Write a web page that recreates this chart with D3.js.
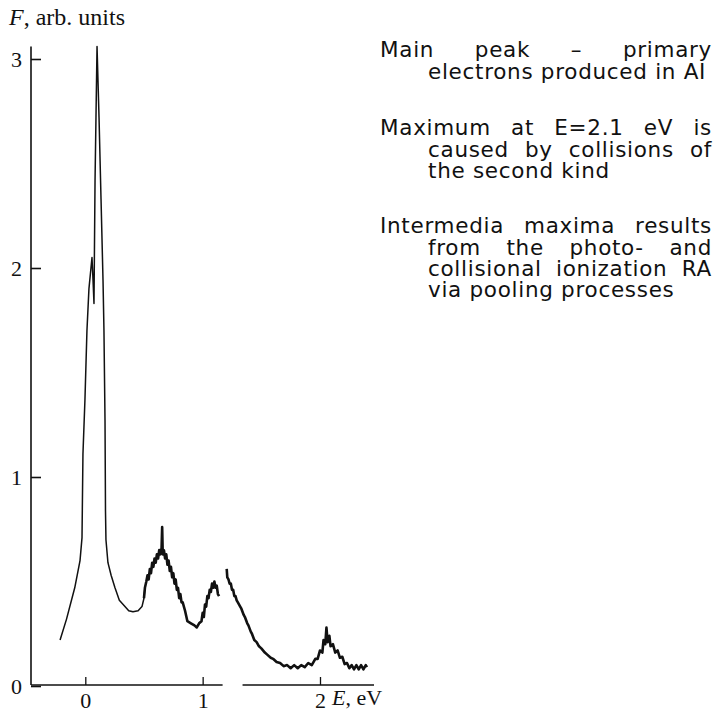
<!DOCTYPE html>
<html>
<head>
<meta charset="utf-8">
<script src="https://cdn.jsdelivr.net/npm/d3@7"></script>
<style>
  body { margin: 0; background: #fff; }
  .serif { font-family: "Liberation Serif", "Times New Roman", serif; font-size: 22px; fill: #111; }
  .titre { font-size: 24px; }
  .note { font-family: "DejaVu Sans", Verdana, sans-serif; font-size: 21.5px; letter-spacing: 0.7px; fill: #111; }
  .courbe { fill: none; stroke: #111; stroke-width: 1.5; stroke-linejoin: round; }
  .bruit { fill: none; stroke: #111; stroke-width: 2.6; stroke-linejoin: round; }
</style>
</head>
<body>
<script>
// Spectre des electrons : energie (eV) et F (unites arbitraires)
var energie = [-0.215, -0.16, -0.09, -0.045, -0.028, -0.02, -0.003, 0.014, 0.031, 0.057, 0.066, 0.074,
  0.078, 0.083, 0.091, 0.100, 0.108, 0.117, 0.134, 0.151, 0.159, 0.168, 0.172, 0.176, 0.193, 0.22,
  0.253, 0.29, 0.338, 0.37, 0.406, 0.45, 0.483, 0.50,
  0.508, 0.52, 0.53, 0.54, 0.55, 0.56, 0.57, 0.58, 0.59, 0.60, 0.61, 0.62, 0.63, 0.64, 0.65, 0.655,
  0.66, 0.67, 0.68, 0.69, 0.70, 0.71, 0.72, 0.73, 0.74, 0.75, 0.76, 0.77, 0.78, 0.79, 0.80, 0.81,
  0.82, 0.83, 0.85, 0.87, 0.90, 0.93, 0.95, 0.97, 0.99, 1.00, 1.01, 1.02, 1.03, 1.04, 1.05, 1.06,
  1.07, 1.08, 1.09, 1.10, 1.11, 1.12, 1.13, 1.14, 1.17,
  1.205, 1.21, 1.22, 1.23, 1.24, 1.25, 1.26, 1.27, 1.28, 1.29, 1.30, 1.32, 1.33, 1.35, 1.36, 1.38,
  1.39, 1.41, 1.42, 1.44, 1.46, 1.48, 1.50, 1.53, 1.55, 1.58, 1.60, 1.63, 1.66, 1.69, 1.72, 1.75,
  1.78, 1.81, 1.84, 1.87, 1.90, 1.93, 1.96, 1.98, 2.00, 2.02, 2.03, 2.045, 2.055, 2.065, 2.08, 2.09,
  2.11, 2.13, 2.15, 2.17, 2.19, 2.21, 2.23, 2.25, 2.27, 2.29, 2.31, 2.33, 2.35, 2.37, 2.39, 2.40];

var intensite = [0.22, 0.32, 0.47, 0.60, 0.71, 1.11, 1.37, 1.70, 1.90, 2.05, 1.94, 1.83,
  2.09, 2.42, 2.72, 3.06, 2.90, 2.72, 2.33, 1.94, 1.70, 1.27, 0.84, 0.70, 0.59, 0.53,
  0.47, 0.41, 0.38, 0.36, 0.355, 0.36, 0.38, 0.42,
  0.47, 0.50, 0.53, 0.51, 0.56, 0.54, 0.59, 0.57, 0.61, 0.59, 0.63, 0.61, 0.65, 0.63, 0.66, 0.76,
  0.63, 0.65, 0.61, 0.63, 0.58, 0.60, 0.55, 0.57, 0.52, 0.54, 0.49, 0.51, 0.46, 0.47, 0.42, 0.44,
  0.40, 0.40, 0.36, 0.31, 0.30, 0.29, 0.28, 0.30, 0.31, 0.35, 0.33, 0.39, 0.38, 0.43, 0.42, 0.46,
  0.45, 0.49, 0.47, 0.50, 0.47, 0.48, 0.44, 0.43, null,
  0.56, 0.52, 0.51, 0.49, 0.49, 0.46, 0.46, 0.43, 0.43, 0.41, 0.40, 0.38, 0.37, 0.34, 0.33, 0.30,
  0.29, 0.26, 0.25, 0.22, 0.21, 0.19, 0.18, 0.16, 0.15, 0.135, 0.13, 0.115, 0.11, 0.095, 0.10, 0.085,
  0.10, 0.085, 0.10, 0.09, 0.11, 0.10, 0.13, 0.13, 0.17, 0.16, 0.22, 0.20, 0.28, 0.21, 0.24, 0.19,
  0.20, 0.16, 0.17, 0.135, 0.14, 0.105, 0.11, 0.085, 0.10, 0.08, 0.10, 0.08, 0.10, 0.08, 0.10, 0.09];

var ticksE = [0, 1, 2];
var ticksF = [0, 1, 2, 3];
var coupureAxe = [1.17, 1.34];   // interruption de l'axe horizontal
var debutBruit = 0.5;            // a partir d'ici le signal est bruite

// Les notes a droite (une ligne par chaine, derniere ligne non justifiee)
var notes = [
  ["Main peak \u2013 primary", "electrons produced in AI"],
  ["Maximum at E=2.1 eV is", "caused by collisions of", "the second kind"],
  ["Intermedia maxima results", "from the photo- and", "collisional ionization RA", "via pooling processes"]
];

var width = 718, height = 711;

var svg = d3.select("body").append("svg")
    .attr("width", width)
    .attr("height", height);

svg.append("rect").attr("width", width).attr("height", height).attr("fill", "#fff");

var x = d3.scaleLinear().domain([0, 2]).range([85.3, 320]);
var y = d3.scaleLinear().domain([0, 3]).range([686, 59]);
var xAxe = 31;

// axe vertical
svg.append("line")
    .attr("x1", xAxe).attr("x2", xAxe)
    .attr("y1", y(0) - 1).attr("y2", y(3.06))
    .attr("stroke", "#111").attr("stroke-width", 1.6);

var axeY = svg.append("g")
    .attr("transform", "translate(" + xAxe + ",0)")
    .call(d3.axisLeft(y).tickValues(ticksF).tickFormat(d3.format("d"))
        .tickSizeInner(-10).tickSizeOuter(0).tickPadding(9));
axeY.select(".domain").remove();
axeY.selectAll("line").attr("stroke", "#111").attr("stroke-width", 1.6);
axeY.selectAll("text").attr("class", "serif").attr("dy", "0.34em");
axeY.attr("font-size", null).attr("font-family", null);

// axe horizontal, en deux morceaux
var yAxe = y(0) - 1;
svg.append("line")
    .attr("x1", xAxe).attr("x2", x(coupureAxe[0]))
    .attr("y1", yAxe).attr("y2", yAxe)
    .attr("stroke", "#111").attr("stroke-width", 1.5);
svg.append("line")
    .attr("x1", x(coupureAxe[1])).attr("x2", 374)
    .attr("y1", yAxe).attr("y2", yAxe)
    .attr("stroke", "#111").attr("stroke-width", 1.5);

var axeX = svg.append("g")
    .attr("transform", "translate(0," + yAxe + ")")
    .call(d3.axisBottom(x).tickValues(ticksE).tickFormat(d3.format("d"))
        .tickSizeInner(-8).tickSizeOuter(0).tickPadding(5));
axeX.select(".domain").remove();
axeX.selectAll("line").attr("stroke", "#111").attr("stroke-width", 1.3);
axeX.selectAll("text").attr("class", "serif").attr("dy", "0.82em");
axeX.attr("font-size", null).attr("font-family", null);

// titres des axes
var titreE = svg.append("text").attr("class", "serif").attr("x", x(2) + 12).attr("y", 705);
titreE.append("tspan").attr("font-style", "italic").text("E");
titreE.append("tspan").text(", eV");

var titreF = svg.append("text").attr("class", "serif titre").attr("x", 9).attr("y", 25);
titreF.append("tspan").attr("font-style", "italic").text("F");
titreF.append("tspan").text(", arb. units");

// la courbe : partie lisse puis partie bruitee (trait plus epais)
var points = energie.map(function(e, i) { return [e, intensite[i]]; });
var ligne = d3.line()
    .defined(function(d) { return d[1] != null; })
    .x(function(d) { return x(d[0]); })
    .y(function(d) { return y(d[1]); });

svg.append("path")
    .datum(points.filter(function(d) { return d[0] <= debutBruit + 0.01; }))
    .attr("class", "courbe").attr("d", ligne);
svg.append("path")
    .datum(points.filter(function(d) { return d[0] >= debutBruit; }))
    .attr("class", "bruit").attr("d", ligne);

// texte justifie a droite
var gauche = 380, retrait = 428, droite = 712;
var baselines = [[57, 79], [135, 157, 178], [233, 255, 276, 297]];

notes.forEach(function(bloc, b) {
    bloc.forEach(function(texte, i) {
        var x0 = i == 0 ? gauche : retrait;
        var yb = baselines[b][i];
        if (i == bloc.length - 1 && i > 0) {
            svg.append("text").attr("class", "note").attr("x", x0).attr("y", yb).text(texte);
            return;
        }
        var mots = texte.split(" ");
        var noeuds = mots.map(function(m) {
            return svg.append("text").attr("class", "note").attr("y", yb).text(m);
        });
        var largeurs = noeuds.map(function(n) { return n.node().getComputedTextLength(); });
        var espace = (droite - x0 - d3.sum(largeurs)) / (mots.length - 1);
        var cx = x0;
        noeuds.forEach(function(n, k) {
            n.attr("x", cx);
            cx += largeurs[k] + espace;
        });
    });
});
</script>
</body>
</html>
